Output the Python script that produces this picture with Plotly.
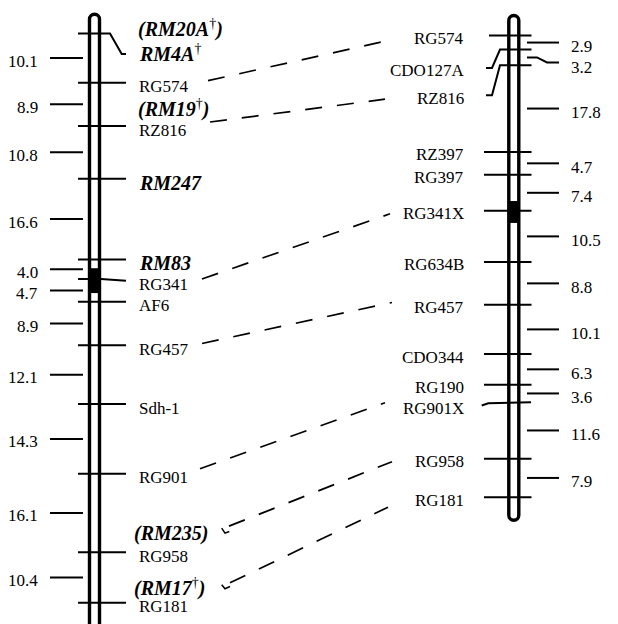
import numpy as np
import plotly.graph_objects as go

# ---------------- data ----------------
left_markers = ["RM4A", "RG574", "RZ816", "RM247", "RM83", "RG341",
                "AF6", "RG457", "Sdh-1", "RG901", "RG958", "RG181"]
left_intervals = [10.1, 8.9, 10.8, 16.6, 4.0, 4.7, 8.9, 12.1, 14.3, 16.1, 10.4]
left_ssr = ["RM4A", "RM247", "RM83"]            # microsatellite markers (bold italic)
left_dagger = ["RM4A"]
left_unplaced = ["RM20A", "RM19", "RM235", "RM17"]   # shown in parentheses
left_unplaced_anchor = ["RM4A", "RZ816", "RG958", "RG181"]
left_unplaced_dagger = ["RM20A", "RM19", "RM17"]
left_centromere = [48.2, 53.3]                  # cM

right_markers = ["RG574", "CDO127A", "RZ816", "RZ397", "RG397", "RG341X",
                 "RG634B", "RG457", "CDO344", "RG190", "RG901X", "RG958", "RG181"]
right_intervals = [2.9, 3.2, 17.8, 4.7, 7.4, 10.5, 8.8, 10.1, 6.3, 3.6, 11.6, 7.9]
right_centromere = [34.4, 38.9]                 # cM

homologs = [("RG574", "RG574"), ("RZ816", "RZ816"), ("RG341", "RG341X"),
            ("RG457", "RG457"), ("RG901", "RG901X"), ("RG958", "RG958"),
            ("RG181", "RG181")]

# ---------------- layout / style ----------------
W, H = 618, 624
SCALE = 4.87          # px per cM
TOP_L = 33.5          # pixel row of 0 cM on the left map
R_SHIFT = 2.0 / SCALE
FONT = "Liberation Serif"
BLACK = "#000000"
TICK_W = 2.0


def cm(px):
    return px / SCALE


def Y(px_abs):
    return (px_abs - TOP_L) / SCALE


left_pos = np.concatenate([[0.0], np.cumsum(left_intervals)])
right_pos = np.concatenate([[0.0], np.cumsum(right_intervals)]) + R_SHIFT
LP = dict(zip(left_markers, left_pos))
RP = dict(zip(right_markers, right_pos))

shapes = []
annotations = []


def line(x0, y0, x1, y1, w=TICK_W, dash="solid"):
    shapes.append(dict(type="line", xref="x", yref="y", x0=x0, y0=y0, x1=x1, y1=y1,
                       line=dict(color=BLACK, width=w, dash=dash)))


def poly(points, w=TICK_W):
    d = "M " + " L ".join(f"{x},{y}" for x, y in points)
    shapes.append(dict(type="path", xref="x", yref="y", path=d,
                       line=dict(color=BLACK, width=w), fillcolor="rgba(0,0,0,0)"))


def capsule(cx, hw, top_px, bot_px, round_bottom):
    k = 0.5523 * hw
    if round_bottom:
        d = f"M {cx-hw},{Y(bot_px-hw)} "
    else:
        d = f"M {cx-hw},{Y(bot_px)} "
    d += f"L {cx-hw},{Y(top_px+hw)} "
    d += f"C {cx-hw},{Y(top_px+hw-k)} {cx-k},{Y(top_px)} {cx},{Y(top_px)} "
    d += f"C {cx+k},{Y(top_px)} {cx+hw},{Y(top_px+hw-k)} {cx+hw},{Y(top_px+hw)} "
    if round_bottom:
        d += f"L {cx+hw},{Y(bot_px-hw)} "
        d += f"C {cx+hw},{Y(bot_px-hw+k)} {cx+k},{Y(bot_px)} {cx},{Y(bot_px)} "
        d += f"C {cx-k},{Y(bot_px)} {cx-hw},{Y(bot_px-hw+k)} {cx-hw},{Y(bot_px-hw)} Z"
    else:
        d += f"L {cx+hw},{Y(bot_px)}"
    shapes.append(dict(type="path", xref="x", yref="y", path=d,
                       line=dict(color=BLACK, width=3.4), fillcolor="rgba(0,0,0,0)"))


def text(x, y, s, anchor, size=17, yshift=0):
    annotations.append(dict(x=x, y=y, xref="x", yref="y", text=s, showarrow=False,
                            xanchor=anchor, yanchor="middle", yshift=yshift,
                            font=dict(family=FONT, size=size, color=BLACK)))


def fmt(name, ssr=False, dagger=False, paren=False):
    if not ssr:
        return name
    s = "<b><i>" + ("(" if paren else "") + name + "</i></b>"
    if dagger:
        s += "<sup>†</sup>"
    if paren:
        s += "<b><i>)</i></b>"
    return s


# ---------- chromosome bars ----------
LCX, RCX, HW = 94.5, 513.8, 5.0
capsule(LCX, HW, 14.3, 660, False)
capsule(RCX, HW, 15.5, 520.2, True)
for cx, (c0, c1) in ((LCX, left_centromere), (RCX, right_centromere)):
    shapes.append(dict(type="rect", xref="x", yref="y", x0=cx - HW, x1=cx + HW,
                       y0=c0, y1=c1, fillcolor=BLACK, line=dict(width=0)))

# ---------- left map ----------
for name, y in LP.items():
    if name == "RM4A":
        poly([(78, y), (110, y), (121.7, y + cm(20.5)), (126, y + cm(20.5))])
        text(137, y + cm(19), fmt(name, True, True), "left", 20)
    elif name == "RG341":
        poly([(78, y), (101, y), (126, y + cm(1.8))])
        text(137, y + cm(6), fmt(name), "left", 17)
    else:
        line(78, y, 126, y)
        ssr = name in left_ssr
        text(137, y + cm(4), fmt(name, ssr, name in left_dagger), "left", 20 if ssr else 17)

unplaced_dy = {"RM20A": -5, "RM19": -17.5, "RM235": -18.5, "RM17": -15}
unplaced_x = {"RM20A": 136, "RM19": 136, "RM235": 132, "RM17": 131.5}
for name, anc in zip(left_unplaced, left_unplaced_anchor):
    text(unplaced_x[name], LP[anc] + cm(unplaced_dy[name]),
         fmt(name, True, name in left_unplaced_dagger, True), "left", 20)

for i, d in enumerate(left_intervals):
    mid = (left_pos[i] + left_pos[i + 1]) / 2
    line(50, mid, 83, mid)
    text(40, mid + cm(3), f"{d:.1f}", "right", 17)

# small hooks after (RM235) and (RM17)
poly([(221.7, LP["RG958"] + cm(-24)), (225, LP["RG958"] + cm(-19)), (229.3, LP["RG958"] + cm(-20.6))], w=1.5)
poly([(221.7, LP["RG181"] + cm(-18)), (225, LP["RG181"] + cm(-14)), (230, LP["RG181"] + cm(-16.3))], w=1.5)

# ---------- right map ----------
right_bent = {"CDO127A": 18.3, "RZ816": 30.0}
for name, y in RP.items():
    if name in right_bent:
        off = right_bent[name]
        poly([(486, y + cm(off)), (492, y + cm(off)), (500, y), (531.5, y)])
        text(466, y + cm(off + 3), name, "right", 17)
    elif name == "RG901X":
        poly([(481.7, y + cm(3.3)), (488.3, y + cm(1)), (531, y)])
        text(466, y + cm(6.5), name, "right", 17)
    else:
        line(489 if name == "RG574" else 484, y, 531.5, y)
        text(466, y + cm(3), name, "right", 17)

for i, d in enumerate(right_intervals):
    mid = (right_pos[i] + right_pos[i + 1]) / 2
    if i == 1:
        poly([(527, mid), (537, mid), (547, mid + cm(5)), (559, mid + cm(5))])
        text(569, mid + cm(10.5), f"{d:.1f}", "left", 17)
    else:
        line(527, mid, 559, mid)
        text(569, mid + cm(4), f"{d:.1f}", "left", 17)

# ---------- homologous marker connections ----------
conn_geom = {
    "RG574": (208, -2, 395, 3.5),
    "RZ816": (210, -4, 385, 34),
    "RG341": (202, 0, 390, 3),
    "RG457": (202, -1.7, 392, -2.3),
    "RG901": (200, -5, 385, 0.6),
    "RG958": (229, -26, 392, 3),
    "RG181": (230, -20, 388, 10),
}
for lm, rm in homologs:
    x0, d0, x1, d1 = conn_geom[lm]
    line(x0, LP[lm] + cm(d0), x1, RP[rm] + cm(d1), w=1.7, dash="17px,15px")

fig = go.Figure()
fig.add_trace(go.Scatter(x=[0], y=[0], mode="markers", marker=dict(opacity=0),
                         hoverinfo="skip", showlegend=False))
fig.update_layout(
    width=W, height=H, autosize=False,
    margin=dict(l=0, r=0, t=0, b=0, pad=0),
    paper_bgcolor="white", plot_bgcolor="white",
    showlegend=False,
    shapes=shapes, annotations=annotations,
    xaxis=dict(range=[0, W], visible=False, fixedrange=True),
    yaxis=dict(range=[(H - TOP_L) / SCALE, -TOP_L / SCALE], visible=False, fixedrange=True),
)
fig.write_html("out.html", config={"displayModeBar": False},
               post_script="document.body.style.margin='0';document.body.style.overflow='hidden';")
